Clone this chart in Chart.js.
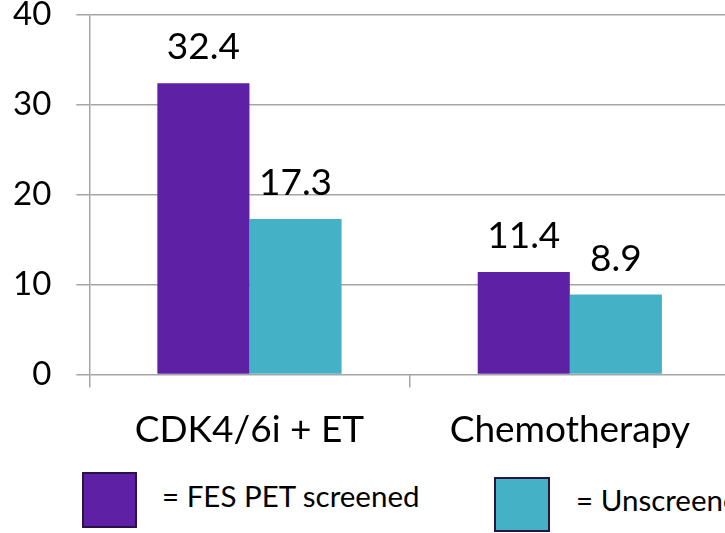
<!DOCTYPE html>
<html>
<head>
<meta charset="utf-8">
<script src="https://cdn.jsdelivr.net/npm/chart.js@4/dist/chart.umd.min.js"></script>
<style>
  html, body { margin: 0; padding: 0; width: 725px; height: 533px; overflow: hidden; background: #fff; }
  #wrap { position: absolute; left: -12px; top: -30px; width: 742px; height: 502px; }
  .lg { position: absolute; font-family: Lato, sans-serif; color: #000; white-space: nowrap; }
  .box { position: absolute; box-sizing: border-box; border: 2px solid #2b1248; }
</style>
</head>
<body>
<div id="wrap"><canvas id="c" width="742" height="502"></canvas></div>
<div class="box" style="left:82px;top:472px;width:55px;height:56px;background:#5e21a5;"></div>
<div class="lg" style="left:162px;top:478px;font-size:29.5px;line-height:36px;">= FES PET screened</div>
<div class="box" style="left:494px;top:477px;width:56px;height:55px;background:#45b1c7;"></div>
<div class="lg" style="left:576px;top:482px;font-size:29.5px;line-height:36px;">= Unscreened</div>
<script>
const categories = ["CDK4/6i + ET", "Chemotherapy"];
const seriesNames = ["FES PET screened", "Unscreened"];
const screened = [32.4, 11.4];
const unscreened = [17.3, 8.9];
const yTicks = [0, 10, 20, 30, 40];

const valueLabels = {
  id: 'valueLabels',
  afterDatasetsDraw(chart) {
    const ctx = chart.ctx;
    ctx.save();
    ctx.font = '37px Lato, sans-serif';
    ctx.fillStyle = '#000';
    ctx.textAlign = 'center';
    ctx.textBaseline = 'alphabetic';
    chart.data.datasets.forEach((ds, i) => {
      chart.getDatasetMeta(i).data.forEach((el, j) => {
        ctx.fillText(ds.data[j].toFixed(1), el.x, el.y - 24);
      });
    });
    ctx.restore();
  }
};

new Chart(document.getElementById('c'), {
  type: 'bar',
  data: {
    labels: categories,
    datasets: [
      { label: seriesNames[0], data: screened, backgroundColor: '#5e21a5', categoryPercentage: 0.575, barPercentage: 1 },
      { label: seriesNames[1], data: unscreened, backgroundColor: '#45b1c7', categoryPercentage: 0.575, barPercentage: 1 }
    ]
  },
  options: {
    responsive: false,
    animation: false,
    devicePixelRatio: 1,
    layout: { padding: { left: 0, right: 0, top: 0, bottom: 0 } },
    plugins: { legend: { display: false }, tooltip: { enabled: false } },
    scales: {
      x: {
        grid: { display: true, drawOnChartArea: false, drawTicks: true, tickLength: 13, offset: true, color: '#a6a6a6', lineWidth: 1.5 },
        border: { display: false },
        ticks: { color: '#000', font: { family: 'Lato', size: 37 }, padding: 20 }
      },
      y: {
        min: 0, max: 40,
        afterBuildTicks(axis) { axis.ticks = yTicks.map(v => ({ value: v })); },
        grid: { color: '#a6a6a6', lineWidth: 1.5, tickLength: 13 },
        border: { display: true, color: '#a6a6a6', width: 1.5 },
        ticks: { color: '#000', font: { family: 'Lato', size: 33 }, padding: 25 }
      }
    }
  },
  plugins: [valueLabels]
});
</script>
</body>
</html>
